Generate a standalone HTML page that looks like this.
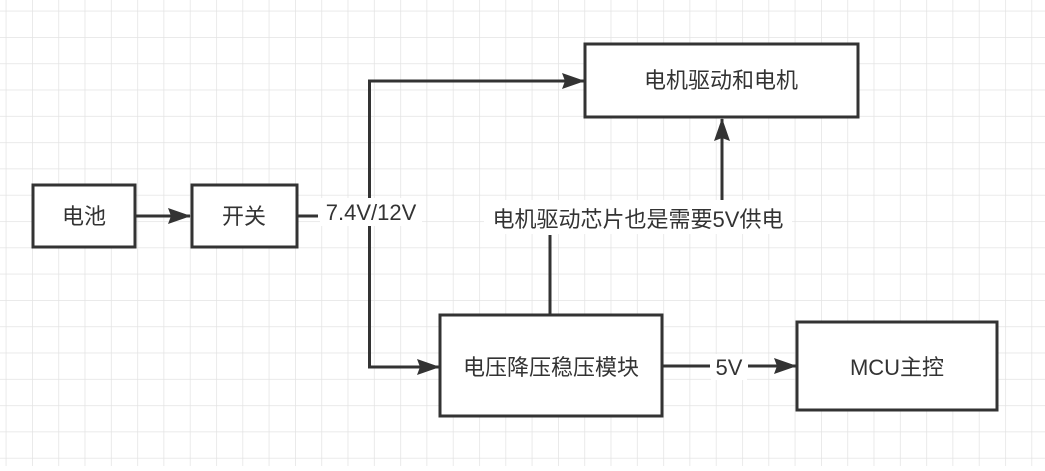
<!DOCTYPE html>
<html><head><meta charset="utf-8"><style>
html,body{margin:0;padding:0;background:#fff}
svg text{font-family:"Liberation Sans","Noto Sans CJK SC",sans-serif;font-size:22px;fill:#333}
</style></head><body>
<svg width="1045" height="466" xmlns="http://www.w3.org/2000/svg">
<defs>
<pattern id="g" x="5.7" y="10.7" width="26.3" height="26.3" patternUnits="userSpaceOnUse">
<path d="M0 0H26.3M0 0V26.3" stroke="#e3e3e3" stroke-width="1.5" fill="none"/>
</pattern>
<marker id="a" markerWidth="24" markerHeight="16" refX="22" refY="8" orient="auto" markerUnits="userSpaceOnUse">
<path d="M0 0L23 8L0 16L3 8Z" fill="#333"/>
</marker>
</defs>
<rect width="1045" height="466" fill="url(#g)"/>
<g stroke="#333" stroke-width="3" fill="#fff">
<rect x="33" y="185" width="102" height="62"/>
<rect x="192" y="185" width="105" height="62"/>
<rect x="585" y="44" width="273" height="73"/>
<rect x="440" y="315" width="222" height="101"/>
<rect x="797" y="322" width="200" height="88"/>
</g>
<g stroke="#333" stroke-width="3" fill="none">
<path d="M135 216H190" marker-end="url(#a)"/>
<path d="M297 216H318"/>
<path d="M369.5 198V81H584" marker-end="url(#a)"/>
<path d="M369.5 226V367H439" marker-end="url(#a)"/>
<path d="M550 315V235"/>
<path d="M722 200V119" marker-end="url(#a)"/>
<path d="M662 366H710"/>
<path d="M748 366H796" marker-end="url(#a)"/>
</g>
<g fill="#fff">
<rect x="320" y="198" width="102" height="28"/>
<rect x="484" y="200" width="308" height="34"/>
<rect x="711" y="354" width="36" height="26"/>
</g>
<g text-anchor="middle">
<text x="84" y="224">电池</text>
<text x="244" y="224">开关</text>
<text x="721" y="88">电机驱动和电机</text>
<text x="551" y="375">电压降压稳压模块</text>
<text x="897" y="375">MCU主控</text>
<text x="371" y="220">7.4V/12V</text>
<text x="638" y="227">电机驱动芯片也是需要5V供电</text>
<text x="729" y="375">5V</text>
</g>
</svg>
</body></html>
